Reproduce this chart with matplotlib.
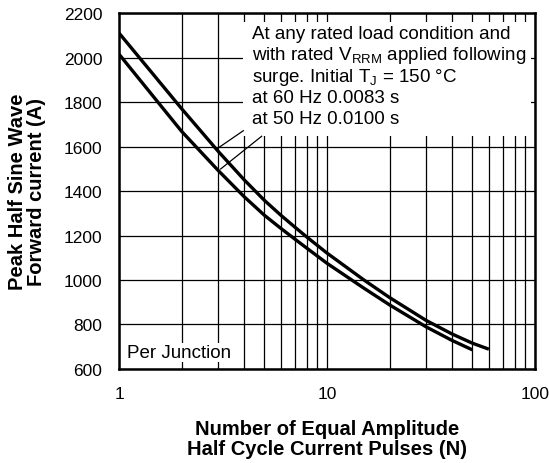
import numpy as np
import matplotlib
matplotlib.use('Agg')
import matplotlib.pyplot as plt
from matplotlib.patches import Rectangle
from matplotlib.ticker import FixedLocator, NullFormatter

plt.rcParams['font.family'] = ['Liberation Sans', 'DejaVu Sans']

# values
n_60hz = [1, 2, 3, 4, 5, 6, 7, 8, 10, 15, 20, 30, 40, 50, 60]
i_60hz = [2110, 1770, 1578, 1450, 1358, 1291, 1238, 1193, 1121, 1001, 921, 818, 757, 716, 689]
n_50hz = [1, 2, 3, 4, 5, 6, 7, 8, 10, 15, 20, 30, 40, 50]
i_50hz = [2015, 1668, 1492, 1374, 1291, 1232, 1184, 1143, 1075, 964, 888, 789, 728, 686]

y_ticks = [600, 800, 1000, 1200, 1400, 1600, 1800, 2000, 2200]
x_ticks = [1, 10, 100]
x_minor = [2, 3, 4, 5, 6, 7, 8, 9, 20, 30, 40, 50, 60, 70, 80, 90]

note_lines = ["At any rated load condition and",
              "with rated V$_{\\mathregular{RRM}}$ applied following",
              "surge. Initial T$_{\\mathregular{J}}$ = 150 \u00b0C",
              "at 60 Hz 0.0083 s",
              "at 50 Hz 0.0100 s"]

fig = plt.figure(figsize=(5.49, 4.64), dpi=100)
ax = fig.add_axes([0.2168, 0.2026, 0.7577, 0.7672])

ax.set_xscale('log')
ax.set_xlim(1, 100)
ax.set_ylim(600, 2200)

ax.xaxis.set_major_locator(FixedLocator(x_ticks))
ax.xaxis.set_minor_locator(FixedLocator(x_minor))
ax.xaxis.set_minor_formatter(NullFormatter())
ax.set_xticklabels([str(t) for t in x_ticks])
ax.set_yticks(y_ticks)

ax.grid(True, which='both', axis='x', color='black', linewidth=0.9)
ax.grid(True, which='major', axis='y', color='black', linewidth=0.9)
ax.tick_params(which='both', length=0, labelsize=12.5)
ax.tick_params(axis='x', pad=12)
ax.tick_params(axis='y', pad=12)
for s in ax.spines.values():
    s.set_linewidth(1.8)
    s.set_zorder(5)

ax.plot(n_60hz, i_60hz, color='black', linewidth=2.4, solid_capstyle='butt')
ax.plot(n_50hz, i_50hz, color='black', linewidth=2.4, solid_capstyle='butt')

# white box behind the note
ax.add_patch(Rectangle((0.298, 0.654), 0.692, 0.321, transform=ax.transAxes,
                       facecolor='white', edgecolor='none', zorder=3))
for k, line in enumerate(note_lines):
    ax.text(0.319, 0.929 - k * 0.0595, line, transform=ax.transAxes,
            ha='left', va='baseline', fontsize=13.5, zorder=4)

# leader lines from the note to the curves
ax.plot([3.96, 2.95], [1671, 1589], color='black', linewidth=0.9, zorder=4)
ax.plot([4.85, 3.08], [1646, 1499], color='black', linewidth=0.9, zorder=4)

ax.text(1.093, 654, 'Per Junction', fontsize=13.5, ha='left', va='baseline',
        zorder=4, bbox=dict(facecolor='white', edgecolor='none', pad=0.5))

fig.text(0.5957, 0.052, 'Number of Equal Amplitude\nHalf Cycle Current Pulses (N)',
         fontsize=14.5, fontweight='bold', ha='center', va='center', linespacing=1.05)
fig.text(0.049, 0.586, 'Peak Half Sine Wave\nForward current (A)', rotation=90,
         fontsize=14.5, fontweight='bold', ha='center', va='center', linespacing=1.05)

fig.savefig('out.png', dpi=100)
